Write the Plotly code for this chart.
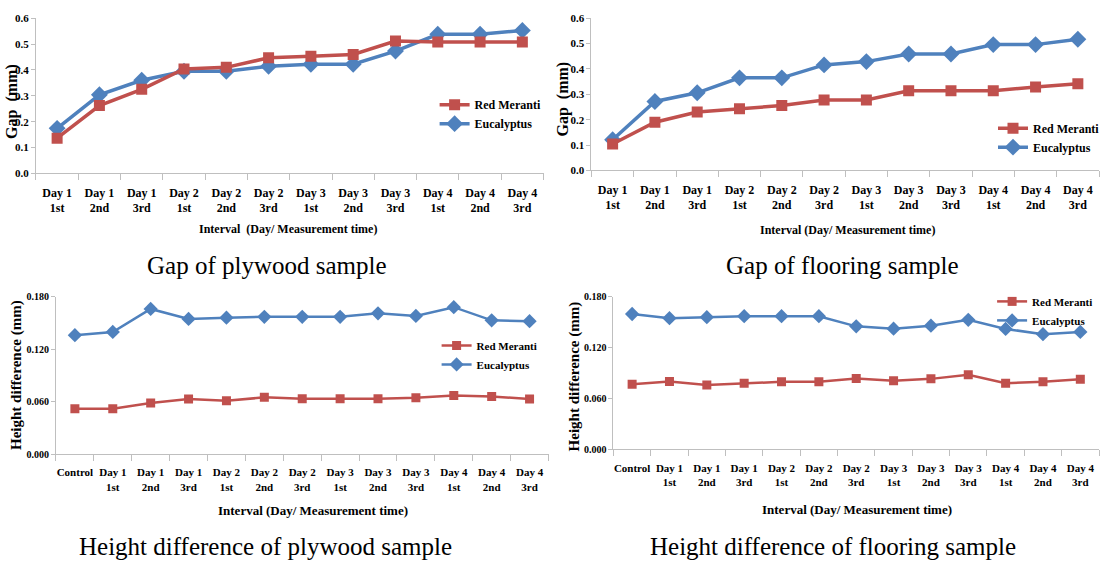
import plotly.graph_objects as go

W, H = 1105, 564

# ---- data ----
cats_gap = ["Day 1<br>1st", "Day 1<br>2nd", "Day 1<br>3rd",
            "Day 2<br>1st", "Day 2<br>2nd", "Day 2<br>3rd",
            "Day 3<br>1st", "Day 3<br>2nd", "Day 3<br>3rd",
            "Day 4<br>1st", "Day 4<br>2nd", "Day 4<br>3rd"]
cats_h = ["Control"] + cats_gap

gap_ply_red = [0.136, 0.262, 0.325, 0.404, 0.410, 0.447, 0.453, 0.460, 0.512, 0.508, 0.508, 0.508]
gap_ply_euc = [0.174, 0.304, 0.360, 0.395, 0.395, 0.414, 0.422, 0.422, 0.473, 0.538, 0.538, 0.553]
gap_floor_red = [0.104, 0.190, 0.230, 0.243, 0.256, 0.278, 0.278, 0.314, 0.314, 0.314, 0.329, 0.342]
gap_floor_euc = [0.121, 0.272, 0.306, 0.365, 0.365, 0.416, 0.429, 0.459, 0.459, 0.496, 0.496, 0.517]
h_ply_red = [0.052, 0.052, 0.0586, 0.063, 0.061, 0.065, 0.0635, 0.0635, 0.0635, 0.0646, 0.067, 0.066, 0.063]
h_ply_euc = [0.136, 0.1397, 0.166, 0.1546, 0.156, 0.157, 0.157, 0.157, 0.161, 0.158, 0.168, 0.153, 0.152]
h_floor_red = [0.0769, 0.080, 0.0758, 0.078, 0.0796, 0.0796, 0.0835, 0.0808, 0.0831, 0.088, 0.078, 0.0796, 0.0827]
h_floor_euc = [0.1596, 0.1546, 0.1558, 0.157, 0.157, 0.157, 0.145, 0.1423, 0.1458, 0.1527, 0.142, 0.1358, 0.1385]

series_names = ["Red Meranti", "Eucalyptus"]
captions = ["Gap of plywood sample", "Gap of flooring sample",
            "Height difference of plywood sample", "Height difference of flooring sample"]
x_title_gap = "Interval  (Day/ Measurement time)"
x_title_gap2 = "Interval (Day/ Measurement time)"
y_title_gap = "Gap  (mm)"
y_title_h = "Height difference (mm)"
gap_ticks = [0.0, 0.1, 0.2, 0.3, 0.4, 0.5, 0.6]
h_ticks = [0.0, 0.06, 0.12, 0.18]

RED = "#C0504D"
BLUE = "#4F81BD"
AXC = "#BFBFBF"
SERIF = "Liberation Serif"

def px(x):
    return x / W

def py(y):
    return 1 - y / H

fig = go.Figure()

panels = [
    # (cats, red, euc, xaxis, yaxis, legend, line width, marker size)
    (cats_gap, gap_ply_red, gap_ply_euc, "x", "y", "legend", 3.5, 11),
    (cats_gap, gap_floor_red, gap_floor_euc, "x2", "y2", "legend2", 3.5, 11),
    (cats_h, h_ply_red, h_ply_euc, "x3", "y3", "legend3", 2.5, 9),
    (cats_h, h_floor_red, h_floor_euc, "x4", "y4", "legend4", 2.5, 9),
]

for cats, red, euc, xa, ya, lg, lw, ms in panels:
    fig.add_trace(go.Scatter(x=cats, y=euc, name="<b>" + series_names[1] + "</b>", mode="lines+markers",
                             line=dict(color=BLUE, width=lw),
                             marker=dict(symbol="diamond", size=ms + 2, color=BLUE),
                             xaxis=xa, yaxis=ya, legend=lg, legendrank=2))
    fig.add_trace(go.Scatter(x=cats, y=red, name="<b>" + series_names[0] + "</b>", mode="lines+markers",
                             line=dict(color=RED, width=lw),
                             marker=dict(symbol="square", size=ms, color=RED),
                             xaxis=xa, yaxis=ya, legend=lg, legendrank=1))

def xaxis(domain, anchor, cats, size, standoff):
    return dict(domain=domain, anchor=anchor, type="category", categoryorder="array",
                categoryarray=cats, range=[-0.5, len(cats) - 0.5],
                tickvals=cats, ticktext=["<b>" + c + "</b>" for c in cats], tickangle=0,
                ticklabelstandoff=standoff,
                showline=True, linecolor=AXC, linewidth=1, showgrid=False, zeroline=False,
                ticks="outside", tickson="boundaries", ticklen=6, tickcolor=AXC,
                tickfont=dict(family=SERIF, size=size, color="#000"),
                fixedrange=True)

def yaxis(domain, anchor, rng, vals, fmt, size):
    return dict(domain=domain, anchor=anchor, range=rng,
                tickvals=vals, ticktext=["<b>" + format(v, fmt) + "</b>" for v in vals],
                showline=True, linecolor=AXC, linewidth=1, showgrid=False, zeroline=False,
                ticks="outside", ticklen=4, tickcolor=AXC,
                tickfont=dict(family=SERIF, size=size, color="#000"),
                fixedrange=True)

fig.update_layout(
    xaxis=xaxis([px(36), px(544)], "y", cats_gap, 12, 8),
    yaxis=yaxis([py(171), py(12.5)], "x", [0, 0.6], gap_ticks, ".1f", 11),
    xaxis2=xaxis([px(592), px(1100)], "y2", cats_gap, 12, 8),
    yaxis2=yaxis([py(168), py(12.5)], "x2", [0, 0.6], gap_ticks, ".1f", 11),
    xaxis3=xaxis([px(56), px(549)], "y3", cats_h, 11, 8),
    yaxis3=yaxis([py(458), py(297)], "x3", [0, 0.18], h_ticks, ".3f", 10),
    xaxis4=xaxis([px(614), px(1100)], "y4", cats_h, 11, 8),
    yaxis4=yaxis([py(453), py(297)], "x4", [0, 0.18], h_ticks, ".3f", 10),
)

def legend(x, y, size):
    return dict(x=px(x), y=py(y), xanchor="left", yanchor="top", bgcolor="rgba(0,0,0,0)",
                font=dict(family=SERIF, size=size, color="#000"),
                tracegroupgap=0, itemwidth=30, traceorder="normal")

fig.update_layout(
    legend=legend(435, 86, 12),
    legend2=legend(994, 110, 12),
    legend3=legend(437, 332, 11),
    legend4=legend(993, 287, 11),
)

ann = []
for text, cx, cy, s in [(captions[0], 267, 265, 25), (captions[1], 843, 265, 25),
                        (captions[2], 266, 552, 25), (captions[3], 834, 552, 25)]:
    ann.append(dict(text=text, x=px(cx), y=py(cy), xref="paper", yref="paper",
                    showarrow=False, xanchor="center", yanchor="middle",
                    font=dict(family=SERIF, size=s, color="#000")))
for text, cx, cy, s in [(x_title_gap, 288, 228, 12), (x_title_gap2, 848, 229, 12),
                        (x_title_gap2, 313, 515, 13), (x_title_gap2, 858, 514, 13)]:
    ann.append(dict(text="<b>" + text + "</b>", x=px(cx), y=py(cy), xref="paper", yref="paper",
                    showarrow=False, xanchor="center", yanchor="middle",
                    font=dict(family=SERIF, size=s, color="#000")))
for text, cx, cy, s in [(y_title_gap, 12, 97, 16), (y_title_gap, 563, 95, 16),
                        (y_title_h, 17, 377, 15), (y_title_h, 575, 378, 15)]:
    ann.append(dict(text="<b>" + text + "</b>", x=px(cx), y=py(cy), xref="paper", yref="paper",
                    showarrow=False, xanchor="center", yanchor="middle", textangle=-90,
                    font=dict(family=SERIF, size=s, color="#000")))

fig.update_layout(
    annotations=ann,
    width=W, height=H,
    margin=dict(l=0, r=0, t=0, b=0),
    paper_bgcolor="white", plot_bgcolor="white",
    showlegend=True,
)

fig.write_html("out.html", include_plotlyjs=True, config={"displayModeBar": False},
               post_script="document.body.style.margin='0px';document.body.style.overflow='hidden';")
